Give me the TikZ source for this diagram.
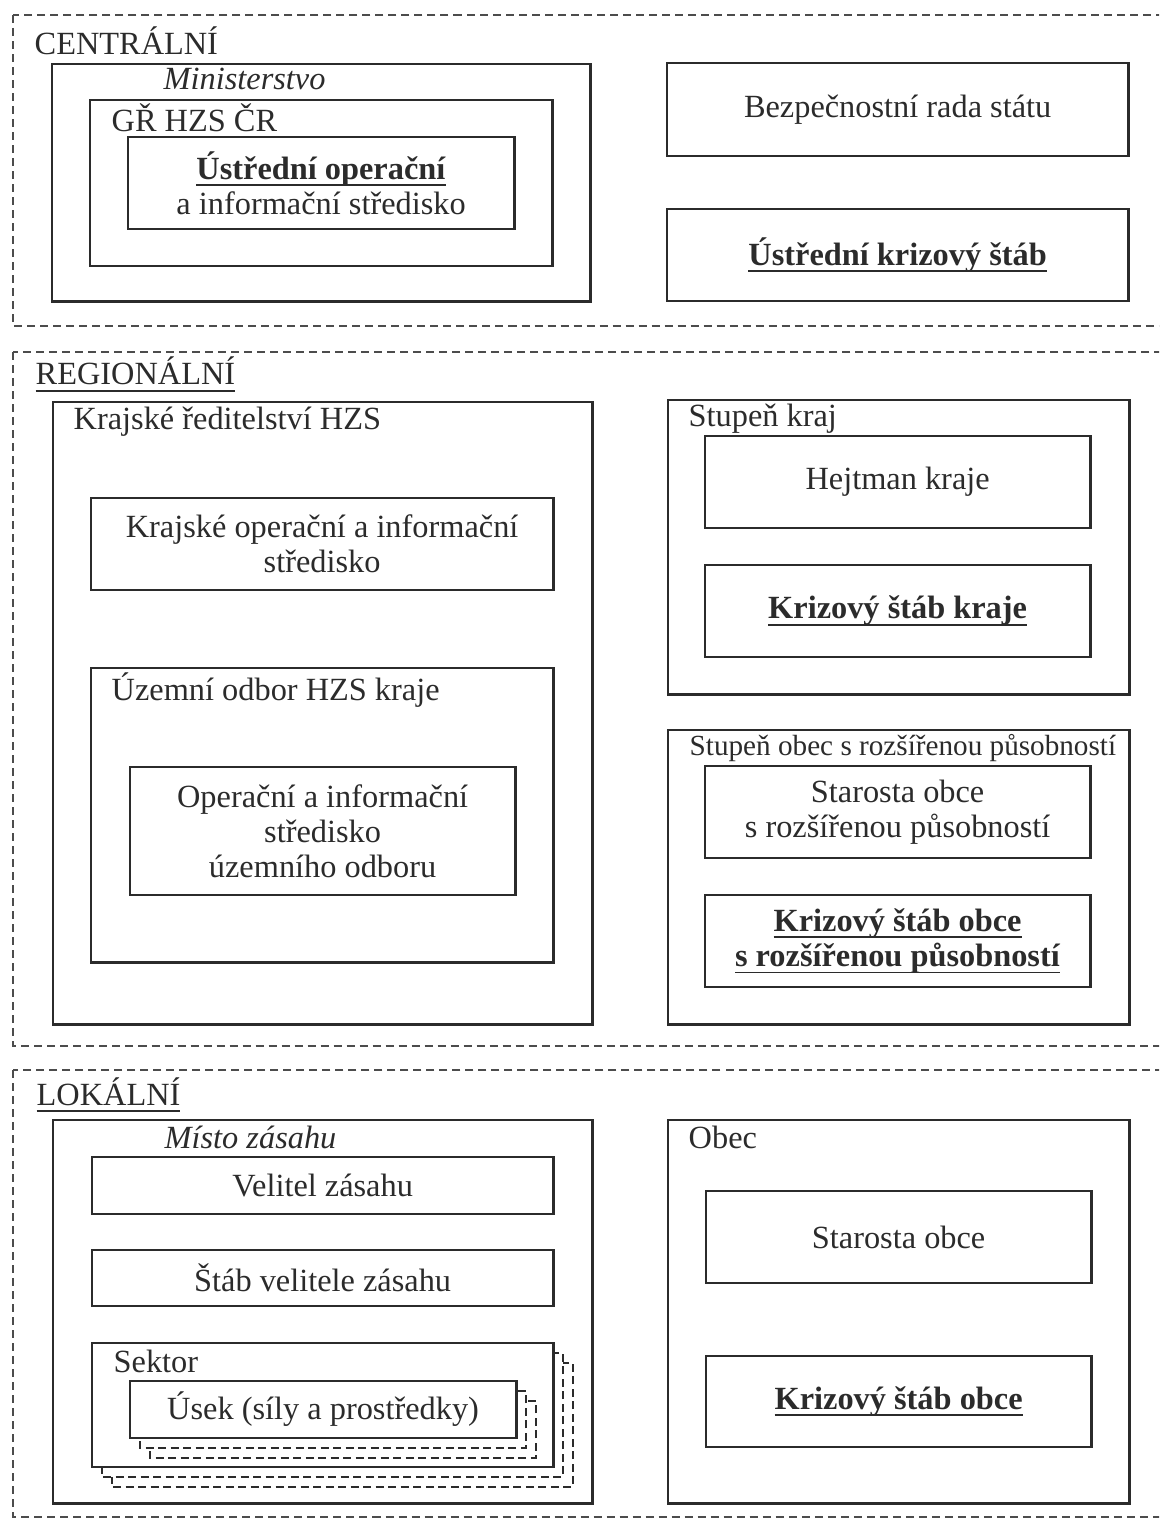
\documentclass[tikz,border=0pt]{standalone}
\usepackage{fontspec}
\setmainfont{Liberation Serif}
\usetikzlibrary{positioning}
\newcommand\bigsz{\fontsize{9.2}{10}\selectfont}
\newcommand\midsz{\fontsize{8.3}{9.9}\selectfont}
\newcommand\undl[1]{\leavevmode\setbox0\hbox{#1}\rlap{\vrule width\wd0 height -1.4pt depth 1.95pt}\box0}
\definecolor{ink}{HTML}{2B2B2B}

\begin{document}
\begin{tikzpicture}[x=0.01cm, y=-0.01cm,
  box/.style={draw=ink, line width=0.8pt, inner sep=0pt, outer sep=0pt, anchor=north west,
    align=center, text=ink, font=\bigsz},
  lbl/.style={inner sep=0pt, anchor=base west, text=ink, font=\bigsz},
  level/.style={draw=black!70, line width=0.7pt, dash pattern=on 0.08cm off 0.05cm},
  copybox/.style={draw=ink, line width=0.6pt, dash pattern=on 0.08cm off 0.045cm, fill=white}]
  \clip (0,0) rectangle (1159,1519);

  % levels
  \draw[level] (13,15) rectangle (1175,326);
  \draw[level] (13,352) rectangle (1175,1046);
  \draw[level] (13,1070) rectangle (1175,1517);
  \node[lbl] (central) at (34,55) {CENTRÁLNÍ};
  \node[lbl] (regional) at (35,385) {\undl{REGIONÁLNÍ}};
  \node[lbl] (local) at (36,1105) {\undl{LOKÁLNÍ}};

  % central
  \node[box, minimum width=5.38cm, minimum height=2.37cm] (minist) at (52,64) {};
  \node[lbl, font=\bigsz\itshape] (ministlbl) at (163,90) {Ministerstvo};
  \node[box, minimum width=4.62cm, minimum height=1.66cm] (grhzs) at (90,100) {};
  \node[lbl] (grhzslbl) at (111,132) {GŘ HZS ČR};
  \node[box, minimum width=3.86cm, minimum height=0.92cm] (uois) at (128,137)
    {\undl{\textbf{Ústřední operační}}\\a informační středisko};
  \node[box, minimum width=4.61cm, minimum height=0.93cm] (brs) at (667,63) {Bezpečnostní rada státu};
  \node[box, minimum width=4.61cm, minimum height=0.92cm] (uks) at (667,209) {\undl{\textbf{Ústřední krizový štáb}}};

  % regional
  \node[box, minimum width=5.39cm, minimum height=6.22cm] (krhzs) at (53,402) {};
  \node[lbl] (krhzslbl) at (73,430) {Krajské ředitelství HZS};
  \node[box, minimum width=4.62cm, minimum height=0.92cm] (kois) at (91,498)
    {Krajské operační a informační\\středisko};
  \node[box, minimum width=4.62cm, minimum height=2.94cm] (uohzs) at (91,668) {};
  \node[lbl] (uohzslbl) at (111,700) {Územní odbor HZS kraje};
  \node[box, minimum width=3.85cm, minimum height=1.28cm] (ois) at (130,767)
    {Operační a informační\\středisko\\územního odboru};
  \node[box, minimum width=4.61cm, minimum height=2.94cm] (kraj) at (668,400) {};
  \node[lbl] (krajlbl) at (688,427) {Stupeň kraj};
  \node[box, minimum width=3.85cm, minimum height=0.92cm] (hejtman) at (705,436) {Hejtman kraje};
  \node[box, minimum width=3.85cm, minimum height=0.92cm] (ksk) at (705,565) {\undl{\textbf{Krizový štáb kraje}}};
  \node[box, minimum width=4.61cm, minimum height=2.94cm] (orp) at (668,730) {};
  \node[lbl, font=\midsz] (orplbl) at (689,755) {Stupeň obec s rozšířenou působností};
  \node[box, minimum width=3.85cm, minimum height=0.92cm] (starorp) at (705,766)
    {Starosta obce\\s rozšířenou působností};
  \node[box, minimum width=3.85cm, minimum height=0.92cm] (ksorp) at (705,895)
    {\undl{\textbf{Krizový štáb obce}}\\\undl{\textbf{s rozšířenou působností}}};

  % local
  \node[box, minimum width=5.39cm, minimum height=3.83cm] (misto) at (53,1120) {};
  \node[lbl, font=\bigsz\itshape] (mistolbl) at (164,1148) {Místo zásahu};
  \node[box, minimum width=4.61cm, minimum height=0.57cm] (velitel) at (92,1157) {Velitel zásahu};
  \node[box, minimum width=4.61cm, minimum height=0.56cm] (stab) at (92,1250) {Štáb velitele zásahu};
  \foreach \d in {20,10}
    \draw[copybox] (92+\d,1343+\d) rectangle (553+\d,1467+\d);
  \node[box, fill=white, minimum width=4.61cm, minimum height=1.24cm] (sektor) at (92,1343) {};
  \node[lbl] (sektorlbl) at (113,1372) {Sektor};
  \foreach \d in {20,10}
    \draw[copybox] (130+\d,1381+\d) rectangle (516+\d,1438+\d);
  \node[box, fill=white, minimum width=3.86cm, minimum height=0.57cm] (usek) at (130,1381) {Úsek (síly a prostředky)};
  \node[box, minimum width=4.61cm, minimum height=3.83cm] (obec) at (668,1120) {};
  \node[lbl] (obeclbl) at (688,1148) {Obec};
  \node[box, minimum width=3.85cm, minimum height=0.92cm] (starosta) at (706,1191) {Starosta obce};
  \node[box, minimum width=3.85cm, minimum height=0.91cm] (kso) at (706,1356) {\undl{\textbf{Krizový štáb obce}}};
\end{tikzpicture}
\end{document}
